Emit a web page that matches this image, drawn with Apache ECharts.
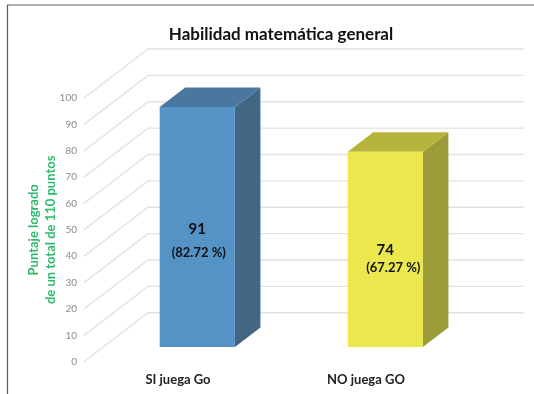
<!DOCTYPE html>
<html>
<head>
<meta charset="utf-8">
<script src="https://cdn.jsdelivr.net/npm/echarts@6/dist/echarts.min.js"></script>
<style>html,body{margin:0;padding:0;background:#fff}#c{width:534px;height:394px}</style>
</head>
<body>
<div id="c"></div>
<script>
const categories = ['SI juega Go', 'NO juega GO'];
const scores = [91, 74];
const percents = ['(82.72 %)', '(67.27 %)'];
const ticks = [0, 10, 20, 30, 40, 50, 60, 70, 80, 90, 100];
const frontColors = ['#5592c6', '#ebe74d'];
const topColors = ['#4a779f', '#b6b43a'];
const sideColors = ['#426784', '#9c9c3a'];

// Oblique projection of the floor depth
const WALL_DX = 64, WALL_DY = 49, WALL_END = 524;
const BAR_SHIFT_X = 19.3, BAR_SHIFT_Y = 14.7;
const BAR_DX = 25.5, BAR_DY = 19.5, BAR_RATIO = 0.4;
// Placement of the two value captions on each bar face
const captionPos = [
  { value: [0, 229], pct: [1.5, 253] },
  { value: [0, 250.5], pct: [8, 268] }
];
const FONT = 'Lato, sans-serif';

const chart = echarts.init(document.getElementById('c'), null, { renderer: 'canvas' });

function renderWall(params, api) {
  const p = api.coord([0, api.value(0)]);
  const x0 = params.coordSys.x;
  return {
    type: 'polyline',
    shape: { points: [[x0, p[1]], [x0 + WALL_DX, p[1] - WALL_DY], [WALL_END, p[1] - WALL_DY]] },
    style: { fill: null, stroke: '#e2e2e2', lineWidth: 1.4 },
    silent: true
  };
}

function renderBar(params, api) {
  const i = api.value(0);
  const c = api.coord([i, api.value(1)]);
  const base = api.coord([i, 0]);
  const w = api.size([1, 0])[0] * BAR_RATIO;
  const l = c[0] + BAR_SHIFT_X - w / 2, r = l + w;
  const t = c[1] - BAR_SHIFT_Y, b = base[1] - BAR_SHIFT_Y;
  return {
    type: 'group',
    children: [
      { type: 'polygon', shape: { points: [[r, t], [r + BAR_DX, t - BAR_DY], [r + BAR_DX, b - BAR_DY], [r, b]] }, style: { fill: sideColors[i] } },
      { type: 'polygon', shape: { points: [[l, t], [l + BAR_DX, t - BAR_DY], [r + BAR_DX, t - BAR_DY], [r, t]] }, style: { fill: topColors[i] } },
      { type: 'rect', shape: { x: l, y: t, width: w, height: b - t }, style: { fill: frontColors[i] } },
      { type: 'text', style: { x: (l + r) / 2 + captionPos[i].value[0], y: captionPos[i].value[1], text: String(scores[i]), fill: '#111', font: 'bold 15px ' + FONT, align: 'center', verticalAlign: 'middle' } },
      { type: 'text', style: { x: (l + r) / 2 + captionPos[i].pct[0], y: captionPos[i].pct[1], text: percents[i], fill: '#111', font: 'bold 13px ' + FONT, align: 'center', verticalAlign: 'middle' } }
    ]
  };
}

chart.setOption({
  animation: false,
  backgroundColor: '#fff',
  title: {
    text: 'Habilidad matemática general',
    left: 276, top: 21, textAlign: 'center',
    textStyle: { fontFamily: FONT, fontWeight: 'bold', fontSize: 17, color: '#111' }
  },
  grid: { left: 84, right: 74, top: 98, bottom: 32.3 },
  xAxis: {
    type: 'category',
    data: categories,
    axisLine: { show: false },
    axisTick: { show: false },
    axisLabel: { fontFamily: FONT, fontWeight: 'bold', fontSize: 13, color: '#222', margin: 12 }
  },
  yAxis: {
    type: 'value', min: 0, max: 100, interval: 10,
    axisLine: { show: false },
    axisTick: { show: false },
    splitLine: { show: false },
    axisLabel: { fontFamily: FONT, fontSize: 10, color: '#8c8c8c', margin: 7 },
    name: 'Puntaje logrado\nde un total de 110 puntos',
    nameLocation: 'middle',
    nameRotate: 90,
    nameGap: 25,
    nameMoveOverlap: false,
    nameTextStyle: { fontFamily: FONT, fontWeight: 'bold', fontSize: 13, color: '#2fb96b', lineHeight: 17 }
  },
  series: [
    { type: 'custom', coordinateSystem: 'cartesian2d', clip: false, z: 1, renderItem: renderWall, encode: { y: 0 }, data: ticks.map(v => [v]) },
    { type: 'custom', coordinateSystem: 'cartesian2d', clip: false, z: 2, renderItem: renderBar, encode: { x: 0, y: 1 }, data: scores.map((s, i) => [i, s]) }
  ],
  graphic: [
    { type: 'polyline', shape: { points: [[7.5, 394], [7.5, 5], [534, 5]] }, style: { fill: null, stroke: '#5c5c5c', lineWidth: 1.2 }, silent: true }
  ]
});
</script>
</body>
</html>
